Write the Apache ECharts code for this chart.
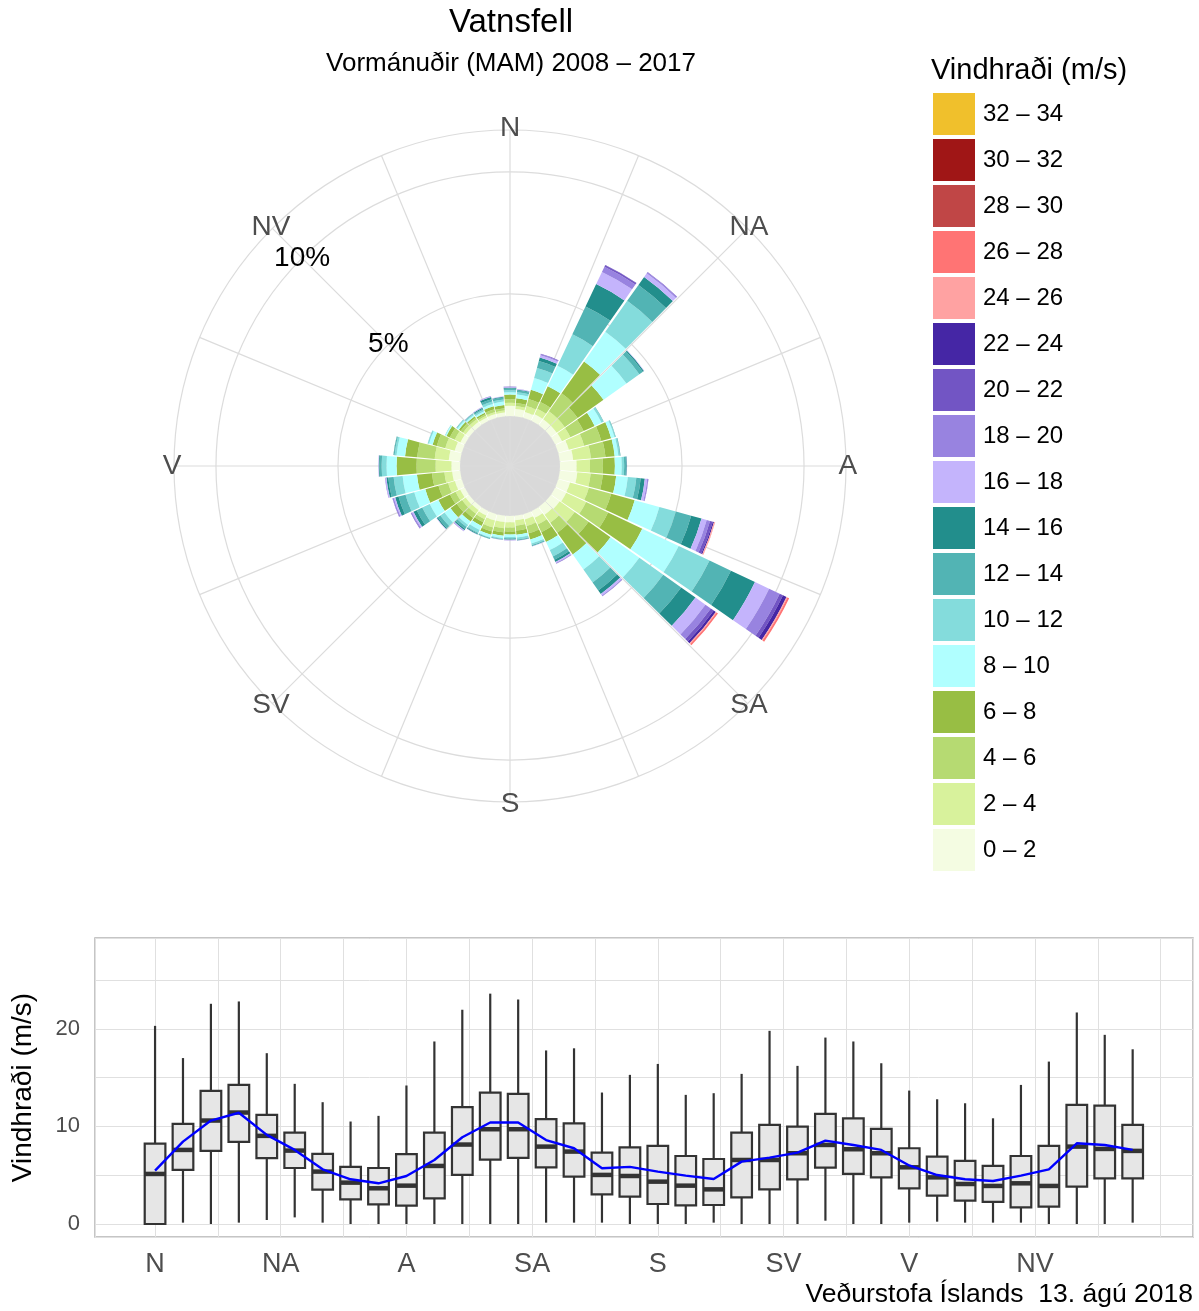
<!DOCTYPE html>
<html><head><meta charset="utf-8">
<script src="https://cdn.jsdelivr.net/npm/echarts@6/dist/echarts.min.js"></script>
<style>html,body{margin:0;padding:0;background:#fff}#c{width:1199px;height:1311px}</style>
</head><body><div id="c"></div>
<script>
// ---------- DATA ----------
const directions = [0,10,20,30,40,50,60,70,80,90,100,110,120,130,140,150,160,170,180,190,200,210,220,230,240,250,260,270,280,290,300,310,320,330,340,350];
const compassLabels = ['N','NA','A','SA','S','SV','V','NV'];
const compassAngles = [0,45,90,135,180,225,270,315];
const percentLabels = ['5%','10%'];
const percentValues = [5,10];
const speedClasses = ['0 – 2','2 – 4','4 – 6','6 – 8','8 – 10','10 – 12','12 – 14','14 – 16','16 – 18','18 – 20','20 – 22','22 – 24','24 – 26','26 – 28','28 – 30','30 – 32','32 – 34'];
const classColors = ['#F4FCE2','#D8F29C','#B6DA72','#98BE44','#B0FFFF','#84DCDC','#52B4B4','#228E8C','#C4B4FC','#9883E0','#7255C4','#4526A5','#FFA2A2','#FF7474','#C04646','#A01616','#F0C02C'];

// share of time (%) per direction for each speed class
const s00_02 = [0.42,0.30,0.25,0.30,0.30,0.30,0.31,0.45,0.55,0.68,0.72,0.50,0.50,0.45,0.40,0.30,0.22,0.18,0.26,0.26,0.27,0.20,0.17,0.18,0.21,0.29,0.33,0.35,0.47,0.30,0.20,0.18,0.17,0.15,0.16,0.15];
const s02_04 = [0.12,0.12,0.25,0.25,0.40,0.40,0.38,0.65,0.73,0.55,0.55,0.80,0.90,0.75,0.40,0.30,0.28,0.23,0.21,0.25,0.29,0.16,0.18,0.18,0.21,0.29,0.32,0.65,0.58,0.40,0.26,0.13,0.13,0.08,0.09,0.08];
const s04_06 = [0.15,0.12,0.30,0.30,0.90,0.65,0.60,0.73,0.60,0.53,0.50,0.95,1.00,0.70,0.50,0.35,0.31,0.20,0.16,0.17,0.17,0.14,0.21,0.27,0.25,0.41,0.51,0.78,0.72,0.36,0.22,0.12,0.08,0.07,0.11,0.10];
const s06_08 = [0.19,0.20,0.39,0.72,1.60,1.30,0.50,0.42,0.38,0.49,0.55,1.00,1.55,1.10,1.10,0.45,0.26,0.17,0.13,0.14,0.14,0.17,0.18,0.31,0.53,0.56,0.62,0.82,0.50,0.18,0.15,0.09,0.07,0.07,0.13,0.13];
const s08_10 = [0.09,0.15,0.50,0.93,1.50,1.15,0.31,0.14,0.15,0.28,0.48,1.05,1.65,1.45,0.75,0.36,0.17,0.11,0.10,0.10,0.11,0.18,0.17,0.30,0.39,0.47,0.59,0.41,0.35,0.15,0.05,0.07,0.06,0.06,0.10,0.14];
const s10_12 = [0.08,0.10,0.43,1.42,1.55,0.65,0.08,0.04,0.06,0.10,0.35,0.70,1.40,1.20,0.65,0.29,0.07,0.09,0.05,0.04,0.03,0.14,0.11,0.21,0.34,0.37,0.37,0.20,0.08,0.05,0.02,0.04,0.05,0.07,0.10,0.09];
const s12_14 = [0.08,0.07,0.29,1.26,0.80,0.18,0.02,0.02,0.02,0.08,0.18,0.65,0.97,0.90,0.40,0.15,0.04,0.02,0.04,0.02,0.03,0.04,0.10,0.13,0.25,0.30,0.22,0.09,0.04,0.01,0,0.02,0.02,0.05,0.10,0.08];
const s14_16 = [0.03,0.03,0.15,1.02,0.40,0.05,0,0,0.01,0.03,0.17,0.44,1.09,0.72,0.18,0.10,0.01,0.02,0.02,0.01,0.01,0.03,0.06,0.05,0.15,0.14,0.08,0.03,0.01,0,0,0,0.01,0.04,0.09,0.03];
const s16_18 = [0.02,0.02,0.10,0.55,0.18,0.02,0,0,0,0.01,0.10,0.22,0.64,0.50,0.08,0.05,0.01,0.01,0.02,0.01,0,0.01,0.03,0.02,0.06,0.06,0.04,0.02,0,0,0,0,0.01,0.02,0.02,0.02];
const s18_20 = [0.02,0.01,0.04,0.24,0.05,0,0,0,0,0,0.04,0.14,0.48,0.27,0.03,0.02,0,0,0.01,0,0,0,0.02,0,0.04,0.05,0.02,0,0,0,0,0,0,0.01,0.02,0];
const s20_22 = [0.01,0,0.02,0.06,0.02,0,0,0,0,0,0.01,0.12,0.15,0.15,0.01,0.01,0,0,0,0,0,0,0,0,0.02,0.01,0,0,0,0,0,0,0,0,0,0];
const s22_24 = [0,0,0,0.02,0,0,0,0,0,0,0,0.05,0.16,0.10,0,0,0,0,0,0,0,0,0,0,0,0,0,0,0,0,0,0,0,0,0,0];
const s24_26 = [0,0,0,0,0,0,0,0,0,0,0,0.04,0.04,0.04,0,0,0,0,0,0,0,0,0,0,0,0,0,0,0,0,0,0,0,0,0,0];
const s26_28 = [0,0,0,0,0,0,0,0,0,0,0,0.01,0.08,0.07,0,0,0,0,0,0,0,0,0,0,0,0,0,0,0,0,0,0,0,0,0,0];
const s28_30 = [0,0,0,0,0,0,0,0,0,0,0,0,0,0,0,0,0,0,0,0,0,0,0,0,0,0,0,0,0,0,0,0,0,0,0,0];
const s30_32 = [0,0,0,0,0,0,0,0,0,0,0,0,0,0,0,0,0,0,0,0,0,0,0,0,0,0,0,0,0,0,0,0,0,0,0,0];
const s32_34 = [0,0,0,0,0,0,0,0,0,0,0,0,0,0,0,0,0,0,0,0,0,0,0,0,0,0,0,0,0,0,0,0,0,0,0,0];
const classValues = [s00_02,s02_04,s04_06,s06_08,s08_10,s10_12,s12_14,s14_16,s16_18,s18_20,s20_22,s22_24,s24_26,s26_28,s28_30,s30_32,s32_34];

// box plot (m/s) per direction
const bxLow  = [0,0.14,0,0.14,0.41,0.68,0.14,0,0,0,0,0,0,0,0.14,0.14,0.14,0,0,0,0.14,0,0,0,0.34,0,0,0.14,0.24,0.14,0.14,0.14,0,0,0,0.14];
const bxQ1   = [0,5.54,7.49,8.41,6.74,5.74,3.52,2.53,2.02,1.88,2.63,5.03,6.6,6.77,5.81,4.85,3.04,2.8,2.05,1.91,1.95,2.73,3.55,4.58,5.78,5.13,4.78,3.66,2.9,2.39,2.26,1.71,1.78,3.83,4.68,4.68];
const bxMed  = [5.13,7.59,10.6,11.42,9.03,7.52,5.37,4.24,3.66,3.93,5.95,8.14,9.71,9.71,7.93,7.42,5.03,4.92,4.34,3.93,3.55,6.56,6.56,7.25,8.1,7.66,7.25,5.81,4.78,4.1,3.9,4.17,3.9,7.93,7.69,7.49];
const bxQ3   = [8.24,10.26,13.64,14.26,11.18,9.37,7.18,5.85,5.74,7.15,9.37,11.97,13.47,13.33,10.74,10.32,7.32,7.86,8.0,6.97,6.66,9.36,10.15,9.98,11.28,10.83,9.74,7.76,6.9,6.46,5.95,6.97,8.0,12.2,12.13,10.15];
const bxHigh = [20.3,17.0,22.56,22.8,17.5,14.36,12.48,10.5,11.08,14.19,18.7,21.95,23.6,23.0,17.78,18.0,13.47,15.28,16.4,13.23,13.4,15.38,19.79,16.2,19.1,18.7,16.47,13.67,12.78,12.37,10.83,14.25,16.64,21.67,19.38,17.9];
const bxMean = [5.47,8.44,10.6,11.4,9.13,7.59,5.6,4.58,4.17,4.92,6.56,8.89,10.4,10.4,8.6,7.76,5.71,5.85,5.37,4.96,4.61,6.39,6.8,7.31,8.54,8.1,7.59,6.0,5.02,4.58,4.41,4.96,5.6,8.27,8.1,7.59];

// ---------- LAYOUT ----------
const FONT = 'Liberation Sans, Arial, sans-serif';
const CX = 510, CY = 466, R = 336;
const RMIN = -2.05, RMAX = 11.72;   // radial scale (%) ; negative part = hole
const LABEL_R = 11.8;                // compass labels sit on the outer ring
const HOLE = R * (-RMIN) / (RMAX - RMIN);
const GRIDC = '#dcdcdc';
const UNIT = 22.5;                   // x axis of box plot in 22.5 degree units
const BOXW = 7.4 / UNIT;
const CLEAR = 'rgba(0,0,0,0)';

const chart = echarts.init(document.getElementById('c'), null, {renderer: 'canvas'});

const roseSeries = speedClasses.map((name, k) => ({
  type: 'bar', name, coordinateSystem: 'polar', polarIndex: 1, stack: 'rose',
  data: classValues[k].map(v => (v > 0 ? v : '-')), barCategoryGap: '7%', silent: true, z: 3,
  itemStyle: {color: classColors[k]}
}));

const textScatter = (data, color) => ({
  type: 'scatter', coordinateSystem: 'polar', polarIndex: 0, symbolSize: 2, clip: false, silent: true, z: 5,
  itemStyle: {color: CLEAR, opacity: 1},
  data,
  label: {show: true, position: 'inside', formatter: p => p.name, fontSize: 28, color, opacity: 1,
          textBorderWidth: 0, fontFamily: FONT}
});

const option = {
  animation: false,
  backgroundColor: '#fff',
  textStyle: {fontFamily: FONT},
  polar: [
    {center: [CX, CY], radius: [0, R]},
    {center: [CX, CY], radius: [0, R]}
  ],
  angleAxis: [
    {polarIndex: 0, type: 'value', min: 0, max: 360, interval: 22.5, startAngle: 90, clockwise: true, z: 1,
     axisLine: {show: false}, axisTick: {show: false}, axisLabel: {show: false},
     splitLine: {show: true, lineStyle: {color: GRIDC, width: 1.2}}},
    {polarIndex: 1, type: 'category', data: directions.map(String), startAngle: 95, clockwise: true, boundaryGap: true,
     axisLine: {show: false}, axisTick: {show: false}, axisLabel: {show: false}, splitLine: {show: false}}
  ],
  radiusAxis: [
    {polarIndex: 0, type: 'value', min: RMIN, max: RMAX, splitNumber: 3, z: 1,
     axisLine: {show: false}, axisTick: {show: false}, axisLabel: {show: false},
     splitLine: {show: true, lineStyle: {color: GRIDC, width: 1.2}}},
    {polarIndex: 1, type: 'value', min: RMIN, max: RMAX,
     axisLine: {show: false}, axisTick: {show: false}, axisLabel: {show: false}, splitLine: {show: false}}
  ],
  grid: [{left: 95, top: 938, width: 1098, height: 299, show: true, borderColor: '#b3b3b3', borderWidth: 1.5, backgroundColor: 'transparent'}],
  xAxis: [{gridIndex: 0, type: 'value', min: -21.5 / UNIT, max: 371.6 / UNIT, splitNumber: 17,
    axisLine: {show: false}, axisTick: {show: false},
    axisLabel: {color: '#4d4d4d', fontSize: 27, margin: 14, fontFamily: FONT,
      formatter: v => { const r = Math.round(v); if (Math.abs(v - r) > 1e-6 || r % 2 !== 0 || r < 0 || r > 14) return ''; return compassLabels[r / 2]; }},
    splitLine: {show: true, lineStyle: {color: '#e0e0e0', width: 1}}}],
  yAxis: [{gridIndex: 0, type: 'value', min: -1.33, max: 29.3, splitNumber: 6,
    name: 'Vindhraði (m/s)', nameLocation: 'middle', nameRotate: 90, nameGap: 58,
    nameTextStyle: {fontSize: 28, color: '#000', fontFamily: FONT},
    axisLine: {show: false}, axisTick: {show: false},
    axisLabel: {color: '#4d4d4d', fontSize: 22, margin: 15, fontFamily: FONT,
      formatter: v => { const r = Math.round(v); return (Math.abs(v - r) < 1e-6 && r % 10 === 0 && r >= 0) ? String(r) : ''; }},
    splitLine: {show: true, lineStyle: {color: '#e0e0e0', width: 1}}}],
  legend: {
    orient: 'vertical', left: 933, top: 93, padding: 0, itemWidth: 42, itemHeight: 42, itemGap: 4,
    icon: 'rect', selectedMode: false, data: speedClasses.slice().reverse(),
    textStyle: {fontSize: 24, color: '#000', fontFamily: FONT, padding: [0, 0, 0, 3]}
  },
  graphic: [
    {type: 'text', x: 511, y: 23, style: {text: 'Vatnsfell', font: '33px ' + FONT, fill: '#000', textAlign: 'center', textVerticalAlign: 'middle'}},
    {type: 'text', x: 511, y: 64, style: {text: 'Vormánuðir (MAM) 2008 – 2017', font: '26px ' + FONT, fill: '#000', textAlign: 'center', textVerticalAlign: 'middle'}},
    {type: 'text', x: 931, y: 71, style: {text: 'Vindhraði (m/s)', font: '29px ' + FONT, fill: '#000', textAlign: 'left', textVerticalAlign: 'middle'}},
    {type: 'text', x: 1193, y: 1295, style: {text: 'Veðurstofa Íslands  13. ágú 2018', font: '26.5px ' + FONT, fill: '#000', textAlign: 'right', textVerticalAlign: 'middle'}}
  ],
  series: [
    {type: 'pie', center: [CX, CY], radius: [0, HOLE], silent: true, z: 0, label: {show: false}, labelLine: {show: false},
     data: [{value: 1, name: 'hole', itemStyle: {color: '#d9d9d9'}}]},
    ...roseSeries,
    textScatter(compassAngles.map((a, i) => ({value: [LABEL_R, a], name: compassLabels[i]})), '#4d4d4d'),
    textScatter(percentValues.map((v, i) => ({value: [v, 315], name: percentLabels[i]})), '#000000'),
    {type: 'custom', xAxisIndex: 0, yAxisIndex: 0, silent: true, z: 3,
     data: directions.map((d, i) => [d / UNIT, bxLow[i], bxQ1[i], bxMed[i], bxQ3[i], bxHigh[i]]),
     encode: {x: 0, y: [1, 2, 3, 4, 5]},
     renderItem: (params, api) => {
       const x = api.value(0);
       const lo = api.coord([x, api.value(1)]), q1 = api.coord([x, api.value(2)]), md = api.coord([x, api.value(3)]);
       const q3 = api.coord([x, api.value(4)]), hi = api.coord([x, api.value(5)]);
       const hw = api.size([BOXW, 0])[0] / 2;
       const ls = {stroke: '#333333', lineWidth: 2.2};
       return {type: 'group', children: [
         {type: 'line', shape: {x1: hi[0], y1: hi[1], x2: q3[0], y2: q3[1]}, style: ls},
         {type: 'line', shape: {x1: lo[0], y1: lo[1], x2: q1[0], y2: q1[1]}, style: ls},
         {type: 'rect', shape: {x: q1[0] - hw, y: q3[1], width: 2 * hw, height: q1[1] - q3[1]}, style: {fill: '#e6e6e6', stroke: '#333333', lineWidth: 2.2}},
         {type: 'line', shape: {x1: md[0] - hw, y1: md[1], x2: md[0] + hw, y2: md[1]}, style: {stroke: '#333333', lineWidth: 4.5}}
       ]};
     }},
    {type: 'line', xAxisIndex: 0, yAxisIndex: 0, silent: true, z: 4, symbol: 'none',
     lineStyle: {color: '#0000ff', width: 2.4}, itemStyle: {color: '#0000ff'},
     data: directions.map((d, i) => [d / UNIT, bxMean[i]])}
  ]
};
chart.setOption(option);
</script></body></html>
